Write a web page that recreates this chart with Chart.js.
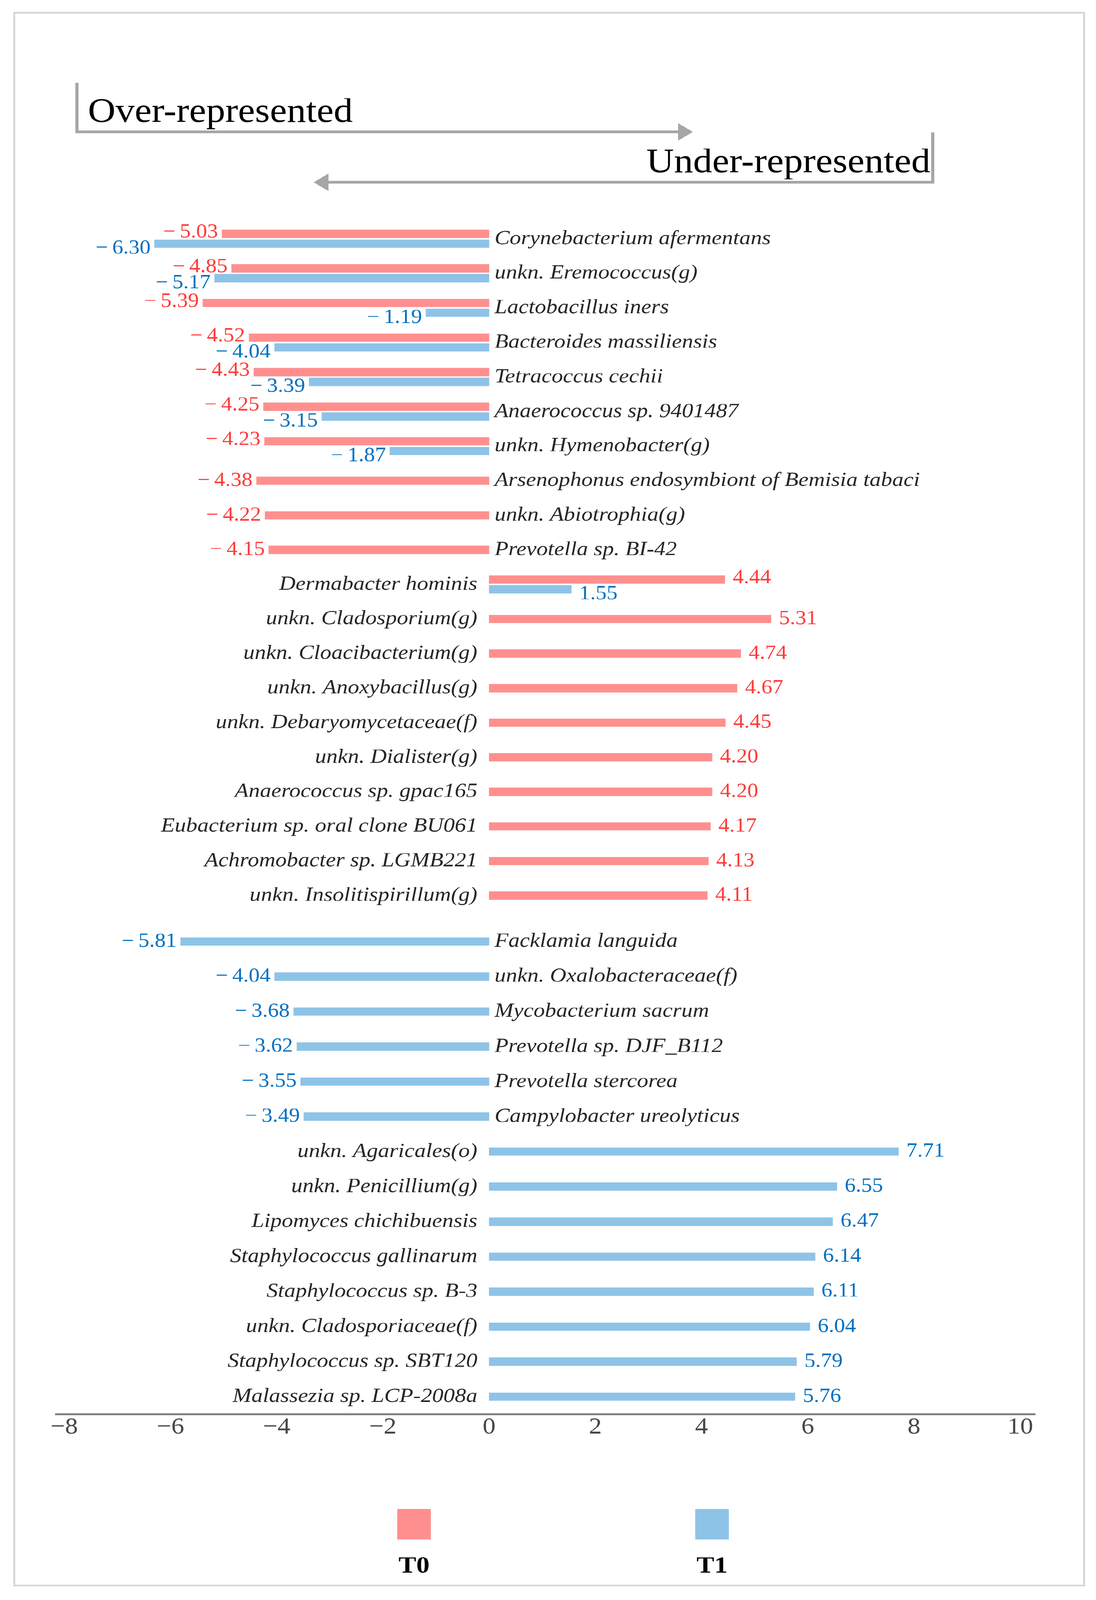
<!DOCTYPE html>
<html>
<head>
<meta charset="utf-8">
<script src="https://cdn.jsdelivr.net/npm/chart.js@4.4.1/dist/chart.umd.min.js"></script>
<style>
  html, body { margin: 0; padding: 0; background: #fff; overflow: hidden; }
  #page { position: absolute; left: 0; top: 0; width: 2806px; height: 4573px; transform-origin: 0 0; }
  #frame { position: absolute; left: 34px; top: 34px; width: 2734px; height: 4490px; border: 5px solid #d6d6d6; }
  canvas { position: absolute; left: 0; }
  #topChart { top: 0; }
  #bottomChart { top: 2620px; }
</style>
</head>
<body>
<div id="page">
  <div id="frame"></div>
  <canvas id="topChart" width="2806" height="2620"></canvas>
  <canvas id="bottomChart" width="2806" height="1953"></canvas>
</div>
<script>
// the figure is laid out at 2806x4573; fit it to whatever the window really is
const page = document.getElementById("page");
page.style.transform = "scale(" + (window.innerWidth / 2806) + "," + (window.innerHeight / 4573) + ")";

// ===== Data =====
const categories = [
  "Corynebacterium afermentans",
  "unkn. Eremococcus(g)",
  "Lactobacillus iners",
  "Bacteroides massiliensis",
  "Tetracoccus cechii",
  "Anaerococcus sp. 9401487",
  "unkn. Hymenobacter(g)",
  "Arsenophonus endosymbiont of Bemisia tabaci",
  "unkn. Abiotrophia(g)",
  "Prevotella sp. BI-42",
  "Dermabacter hominis",
  "unkn. Cladosporium(g)",
  "unkn. Cloacibacterium(g)",
  "unkn. Anoxybacillus(g)",
  "unkn. Debaryomycetaceae(f)",
  "unkn. Dialister(g)",
  "Anaerococcus sp. gpac165",
  "Eubacterium sp. oral clone BU061",
  "Achromobacter sp. LGMB221",
  "unkn. Insolitispirillum(g)",
  "Facklamia languida",
  "unkn. Oxalobacteraceae(f)",
  "Mycobacterium sacrum",
  "Prevotella sp. DJF_B112",
  "Prevotella stercorea",
  "Campylobacter ureolyticus",
  "unkn. Agaricales(o)",
  "unkn. Penicillium(g)",
  "Lipomyces chichibuensis",
  "Staphylococcus gallinarum",
  "Staphylococcus sp. B-3",
  "unkn. Cladosporiaceae(f)",
  "Staphylococcus sp. SBT120",
  "Malassezia sp. LCP-2008a"
];

const t0Values = [
  -5.03, -4.85, -5.39, -4.52, -4.43, -4.25, -4.23, -4.38, -4.22, -4.15,
  4.44, 5.31, 4.74, 4.67, 4.45, 4.20, 4.20, 4.17, 4.13, 4.11,
  null, null, null, null, null, null, null, null, null, null, null, null, null, null
];

const t1Values = [
  -6.30, -5.17, -1.19, -4.04, -3.39, -3.15, -1.87, null, null, null,
  1.55, null, null, null, null, null, null, null, null, null,
  -5.81, -4.04, -3.68, -3.62, -3.55, -3.49,
  7.71, 6.55, 6.47, 6.14, 6.11, 6.04, 5.79, 5.76
];

const seriesNames = ["T0", "T1"];
const barColors = ["#ff8f8f", "#8ec3e8"];
const valueColors = ["#ff3b3b", "#0070c0"];
const xTicks = [-8, -6, -4, -2, 0, 2, 4, 6, 8, 10];
const splitAt = 20; // first block: T0 rows, second block: T1-only rows

const SERIF = '"Liberation Serif", "DejaVu Serif", serif';

// ===== Helpers =====
function fmt(v) {
  return v < 0 ? "\u2212\u2009" + Math.abs(v).toFixed(2) : v.toFixed(2);
}

function makeDatasets(from, to) {
  return [t0Values, t1Values].map((vals, i) => ({
    label: seriesNames[i],
    data: vals.slice(from, to),
    backgroundColor: barColors[i],
    borderWidth: 0,
    barThickness: 28,
    maxBarThickness: 23,
    skipNull: true
  }));
}

// category names at the zero line + value labels at bar ends
const barLabels = {
  id: "barLabels",
  afterDatasetsDraw(chart) {
    const ctx = chart.ctx;
    const x0 = chart.scales.x.getPixelForValue(0);
    const yScale = chart.scales.y;
    ctx.save();
    ctx.textBaseline = "middle";

    chart.data.labels.forEach((name, i) => {
      const vals = chart.data.datasets.map(d => d.data[i]).filter(v => v != null);
      const y = yScale.getPixelForValue(i);
      ctx.font = "italic 58px " + SERIF;
      ctx.fillStyle = "#262626";
      if (vals[0] < 0) {
        ctx.textAlign = "left";
        ctx.fillText(name, x0 + 14, y);
      } else {
        ctx.textAlign = "right";
        ctx.fillText(name, x0 - 30, y);
      }
    });

    ctx.font = "56px " + SERIF;
    chart.data.datasets.forEach((ds, di) => {
      const meta = chart.getDatasetMeta(di);
      meta.data.forEach((bar, i) => {
        const v = ds.data[i];
        if (v == null) return;
        const paired = chart.data.datasets.every(d => d.data[i] != null);
        const dy = paired ? (di === 1 ? 14 : -4) : 0;
        ctx.fillStyle = valueColors[di];
        if (v < 0) {
          ctx.textAlign = "right";
          ctx.fillText(fmt(v), bar.x - 10, bar.y + dy);
        } else {
          ctx.textAlign = "left";
          ctx.fillText(fmt(v), bar.x + 20, bar.y + dy);
        }
      });
    });
    ctx.restore();
  }
};

// "Over-represented" / "Under-represented" arrows
const header = {
  id: "header",
  afterDraw(chart) {
    const ctx = chart.ctx;
    ctx.save();
    ctx.strokeStyle = "#a6a6a6";
    ctx.fillStyle = "#a6a6a6";
    ctx.lineWidth = 8;

    ctx.beginPath();
    ctx.moveTo(197, 237);
    ctx.lineTo(197, 377);
    ctx.lineTo(1740, 377);
    ctx.stroke();
    ctx.beginPath();
    ctx.moveTo(1774, 377);
    ctx.lineTo(1736, 352);
    ctx.lineTo(1736, 402);
    ctx.closePath();
    ctx.fill();

    ctx.beginPath();
    ctx.moveTo(2388, 378);
    ctx.lineTo(2388, 521);
    ctx.lineTo(838, 521);
    ctx.stroke();
    ctx.beginPath();
    ctx.moveTo(803, 521);
    ctx.lineTo(841, 496);
    ctx.lineTo(841, 546);
    ctx.closePath();
    ctx.fill();

    ctx.fillStyle = "#000";
    ctx.font = "98px " + SERIF;
    ctx.textBaseline = "alphabetic";
    ctx.textAlign = "left";
    ctx.fillText("Over-represented", 225, 348);
    ctx.textAlign = "right";
    ctx.fillText("Under-represented", 2382, 492);
    ctx.restore();
  }
};

// legend: colour square with the series name below it
const legendBelow = {
  id: "legendBelow",
  afterDraw(chart) {
    const ctx = chart.ctx;
    const centers = [1060, 1823];
    const top = 4313 - 2620;
    ctx.save();
    chart.data.datasets.forEach((ds, i) => {
      ctx.fillStyle = ds.backgroundColor;
      ctx.fillRect(centers[i] - 43, top, 86, 87);
      ctx.fillStyle = "#000";
      ctx.font = "bold 68px " + SERIF;
      ctx.textAlign = "center";
      ctx.textBaseline = "alphabetic";
      ctx.fillText(ds.label, centers[i], top + 182);
    });
    ctx.restore();
  }
};

function makeOptions(showAxis, padding) {
  return {
    indexAxis: "y",
    responsive: false,
    animation: false,
    devicePixelRatio: 1,
    layout: { padding },
    plugins: { legend: { display: false }, tooltip: { enabled: false } },
    scales: {
      x: {
        type: "linear",
        min: -8.15,
        max: 10.28,
        display: showAxis,
        afterBuildTicks: s => { s.ticks = xTicks.map(v => ({ value: v })); },
        afterFit: s => { s.height = showAxis ? 90 : 0; },
        grid: { display: false, drawTicks: false },
        border: { display: true, color: "#808080", width: 6 },
        ticks: {
          padding: -2,
          color: "#474747",
          font: { family: SERIF, size: 66 },
          callback: v => (v < 0 ? "\u2212" + Math.abs(v) : String(v))
        }
      },
      y: {
        type: "category",
        display: false,
        offset: true,
        grid: { display: false }
      }
    }
  };
}

// ===== Top block (T0 rows) =====
new Chart(document.getElementById("topChart"), {
  type: "bar",
  data: { labels: categories.slice(0, splitAt), datasets: makeDatasets(0, splitAt) },
  options: makeOptions(false, { top: 633, bottom: 11, left: 144, right: 156 }),
  plugins: [barLabels, header]
});

// ===== Bottom block (T1-only rows) + axis + legend =====
new Chart(document.getElementById("bottomChart"), {
  type: "bar",
  data: { labels: categories.slice(splitAt), datasets: makeDatasets(splitAt, categories.length) },
  options: makeOptions(true, { top: 21, bottom: 441, left: 144, right: 156 }),
  plugins: [barLabels, legendBelow]
});
</script>
</body>
</html>
